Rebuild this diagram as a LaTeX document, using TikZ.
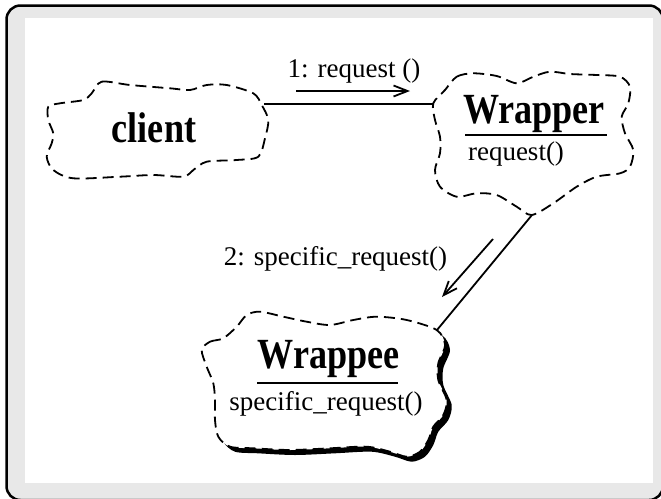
\documentclass[tikz,border=0pt]{standalone}
\usepackage{fontspec}
\setmainfont{Liberation Serif}
\usepackage{graphicx}
\usepackage{color}
\usetikzlibrary{arrows.meta}

\definecolor{framegray}{RGB}{232,232,232}
\newcommand{\narrowbf}[1]{\scalebox{0.84}[1]{#1}}
\newcommand{\wrappeepath}{plot[smooth cycle] coordinates {(201.7,350) (210,341.7) (223.3,338.3) (236.7,326.7) (246.7,315) (260,311.7) (283.3,316.7) (306.7,321.7) (330,325) (353.3,320) (376.7,316.7) (406.7,320) (436.7,330) (445,345) (438.3,363.3) (438.3,380) (446.7,400) (443.3,415) (433.3,426.7) (428.3,440) (420,451.7) (406.7,456.7) (390,451.7) (366.7,446.7) (330,448.3) (290,450) (253.3,448.3) (230,446.7) (218.3,436.7) (215,420) (215,400) (213.3,383.3) (206.7,366.7)}}

\tikzset{
  cloudline/.style={dash pattern=on 11pt off 6pt, line width=1.8pt, line join=round},
  classname/.style={font=\fontsize{43}{43}\selectfont\bfseries, inner sep=0pt, anchor=base},
  opname/.style={font=\fontsize{27}{27}\selectfont, inner sep=0pt, anchor=base},
  msgarrow/.style={line width=1.8pt, -{Straight Barb[length=14pt,width=11pt,line width=1.8pt]}},
}

\begin{document}
\begin{tikzpicture}[x=1pt, y=-1pt]
\useasboundingbox (0,0) rectangle (661,498);

% Drawing frame
\draw[line width=2.5pt, fill=framegray, rounded corners=14pt] (6.5,5.5) rectangle (663,500);
\fill[white] (25,18) rectangle (653,483);

% Drawing client cloud
\draw[cloudline, fill=white] plot[smooth cycle] coordinates {(91.7,93.3) (101.7,81.7) (130,85) (170,88.3) (190,90) (206.7,85) (226.7,85) (253.3,93.3) (261.7,105) (268.3,120) (265,138.3) (258.3,156.7) (236.7,160) (206.7,161.7) (193.3,170) (183.3,176.7) (153.3,175) (120,176.7) (73.3,178.3) (53.3,170) (46.7,156.7) (51.7,143.3) (53.3,133.3) (48.3,120) (48.3,106.7) (60,103.3) (83.3,100)};

% Drawing Wrapper cloud
\draw[cloudline, fill=white] plot[smooth cycle] coordinates {(445,90) (456.7,76.7) (473.3,73.3) (496.7,76) (516.7,83.3) (533.3,76.7) (550,71.7) (570,74) (596.7,75) (620,76.7) (630,86.7) (628.3,103.3) (621.7,116.7) (625,133.3) (633.3,150) (630,166.7) (620,173.3) (596.7,176.7) (576.7,186.7) (553.3,203.3) (531.7,215) (516.7,206.7) (496.7,195) (476.7,193.3) (456.7,196.7) (440,186.7) (435,170) (440,153.3) (440,136.7) (435,120) (433.3,103.3)};

% Drawing Wrappee cloud with shadow
\fill[black, shift={(5,5)}] \wrappeepath;
\draw[cloudline, fill=white] \wrappeepath;

% Attachment points
\coordinate (client-e) at (264,104);
\coordinate (wrapper-w) at (434,104);
\coordinate (wrapper-s) at (532,215);
\coordinate (wrappee-ne) at (437,330);
\coordinate (msg1-start) at (296,91);
\coordinate (msg1-end) at (410,91);
\coordinate (msg2-start) at (493,239);
\coordinate (msg2-end) at (442,297);

% Drawing links
\draw[line width=2pt] (client-e) -- (wrapper-w);
\draw[line width=1.8pt] (wrapper-s) -- (wrappee-ne);

% Drawing messages
\draw[msgarrow] (msg1-start) -- (msg1-end);
\draw[msgarrow] (msg2-start) -- (msg2-end);
\node[opname] (msg1) at (354,77) {1: request ()};
\node[opname] (msg2) at (335.5,265) {2: specific\_request()};

% Drawing class names
\node[classname] (client) at (154,142) {\narrowbf{client}};
\node[classname] (wrapper) at (534,123) {\narrowbf{Wrapper}};
\node[opname] (wrapper-op) at (516,160) {request()};
\draw[line width=2pt] (465,135) -- (607,135);
\node[classname] (wrappee) at (328.5,368) {\narrowbf{Wrappee}};
\node[opname] (wrappee-op) at (326,410) {specific\_request()};
\draw[line width=2pt] (257,383) -- (398,383);
\end{tikzpicture}
\end{document}
